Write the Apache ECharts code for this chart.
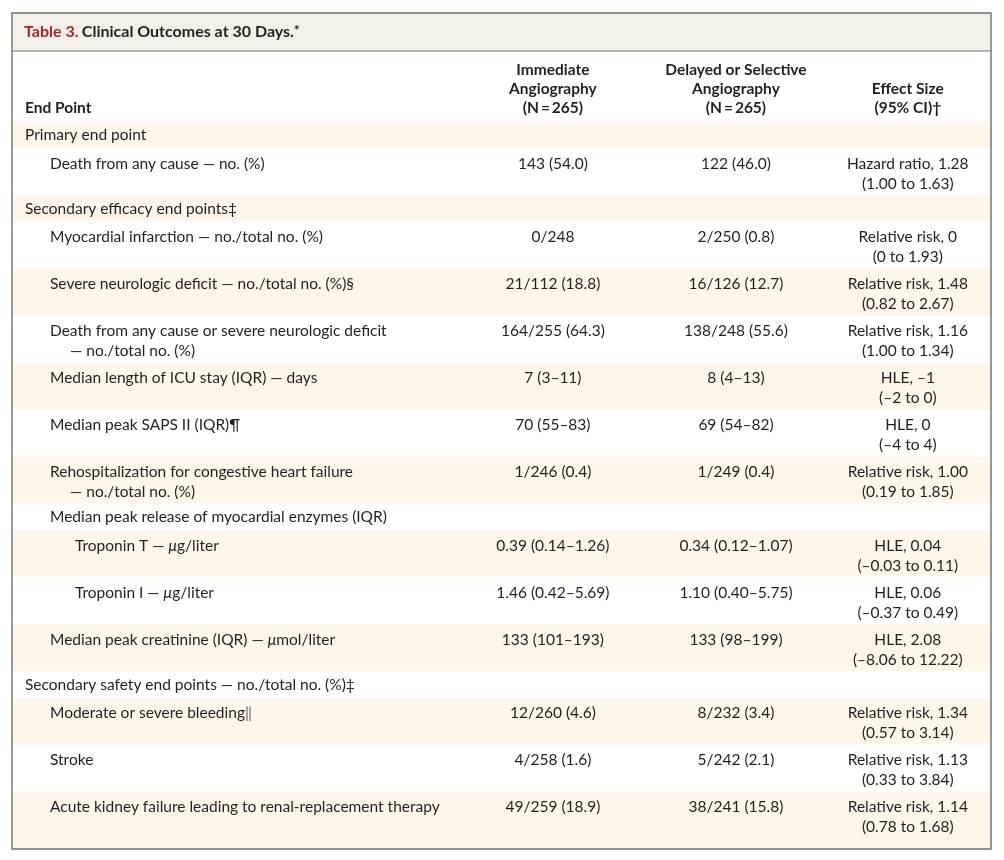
<!DOCTYPE html>
<html><head><meta charset="utf-8">
<script src="https://cdn.jsdelivr.net/npm/echarts@6/dist/echarts.min.js"></script>
<style>html,body{margin:0;padding:0;background:#fff}#c{width:1004px;height:860px}</style>
</head><body><div id="c"></div>
<script>
// ---------- DATA ----------
const tableNumber = 'Table 3.';
const tableTitle = 'Clinical Outcomes at 30 Days.';
const titleMark = '*';
const headerEndPoint = 'End Point';
const columnHeaders = [
  ['Immediate', 'Angiography', '(N\u2009=\u2009265)'],
  ['Delayed or Selective', 'Angiography', '(N\u2009=\u2009265)'],
  ['Effect Size', '(95% CI)\u2020']
];
const endPoints = [
  'Primary end point',
  'Death from any cause \u2014 no. (%)',
  'Secondary efficacy end points\u2021',
  'Myocardial infarction \u2014 no./total no. (%)',
  'Severe neurologic deficit \u2014 no./total no. (%)\u00a7',
  'Death from any cause or severe neurologic deficit\n\u2014 no./total no. (%)',
  'Median length of ICU stay (IQR) \u2014 days',
  'Median peak SAPS II (IQR)\u00b6',
  'Rehospitalization for congestive heart failure\n\u2014 no./total no. (%)',
  'Median peak release of myocardial enzymes (IQR)',
  'Troponin T \u2014 \u03bcg/liter',
  'Troponin I \u2014 \u03bcg/liter',
  'Median peak creatinine (IQR) \u2014 \u03bcmol/liter',
  'Secondary safety end points \u2014 no./total no. (%)\u2021',
  'Moderate or severe bleeding\u2016',
  'Stroke',
  'Acute kidney failure leading to renal-replacement therapy'
];
const levels = [0, 1, 0, 1, 1, 1, 1, 1, 1, 1, 2, 2, 1, 0, 1, 1, 1];
const immediate = [
  '', '143 (54.0)', '', '0/248', '21/112 (18.8)', '164/255 (64.3)', '7 (3\u201311)', '70 (55\u201383)',
  '1/246 (0.4)', '', '0.39 (0.14\u20131.26)', '1.46 (0.42\u20135.69)', '133 (101\u2013193)', '',
  '12/260 (4.6)', '4/258 (1.6)', '49/259 (18.9)'
];
const delayed = [
  '', '122 (46.0)', '', '2/250 (0.8)', '16/126 (12.7)', '138/248 (55.6)', '8 (4\u201313)', '69 (54\u201382)',
  '1/249 (0.4)', '', '0.34 (0.12\u20131.07)', '1.10 (0.40\u20135.75)', '133 (98\u2013199)', '',
  '8/232 (3.4)', '5/242 (2.1)', '38/241 (15.8)'
];
const effectSize = [
  '', 'Hazard ratio, 1.28\n(1.00 to 1.63)', '', 'Relative risk, 0\n(0 to 1.93)',
  'Relative risk, 1.48\n(0.82 to 2.67)', 'Relative risk, 1.16\n(1.00 to 1.34)',
  'HLE, \u20131\n(\u20132 to 0)', 'HLE, 0\n(\u20134 to 4)', 'Relative risk, 1.00\n(0.19 to 1.85)', '',
  'HLE, 0.04\n(\u20130.03 to 0.11)', 'HLE, 0.06\n(\u20130.37 to 0.49)', 'HLE, 2.08\n(\u20138.06 to 12.22)', '',
  'Relative risk, 1.34\n(0.57 to 3.14)', 'Relative risk, 1.13\n(0.33 to 3.84)', 'Relative risk, 1.14\n(0.78 to 1.68)'
];

// ---------- LAYOUT / STYLE ----------
const FONT = 'Lato, "Open Sans", sans-serif';
const FS = 15.5;
const TXT = '#231f20';
const CREAM = '#fef6e8';
const BORDER = '#6f6f6f';
const SHORT_H = 26.6, TALL_H = 46.95, BOTTOM_PAD = 10;
const LINE_H = 20;
const indentPx = [13, 38, 63];
const colCenter = [55.25, 73.95, 91.5]; // % of table width

const rowStart = [], rowEnd = [];
let acc = 0;
endPoints.forEach((_, i) => {
  const tall = immediate[i] || delayed[i] || effectSize[i] || endPoints[i].indexOf('\n') >= 0;
  let h = tall ? TALL_H : SHORT_H;
  if (i === endPoints.length - 1) h += BOTTOM_PAD;
  rowStart.push(acc); acc += h; rowEnd.push(acc);
});
const totalH = acc;

const rich = {
  n: { fontFamily: FONT, fontSize: FS, fill: TXT, color: TXT },
  i: { fontFamily: FONT, fontSize: FS, fill: TXT, color: TXT, fontStyle: 'italic' },
  g: { fontFamily: FONT, fontSize: FS, fill: '#8a8a8a', color: '#8a8a8a', fontWeight: 'bold' }
};
function richify(s) {
  const parts = [];
  let buf = '';
  for (const ch of s) {
    if (ch === '\u03bc' || ch === '\u2016') {
      if (buf) parts.push('{n|' + buf + '}');
      parts.push((ch === '\u03bc' ? '{i|' : '{g|') + ch + '}');
      buf = '';
    } else buf += ch;
  }
  if (buf) parts.push('{n|' + buf + '}');
  return parts.join('');
}

function renderItem(params, api) {
  const i = params.dataIndex;
  const p0 = api.coord([0, rowStart[i]]);
  const p1 = api.coord([100, rowEnd[i]]);
  const tall = (rowEnd[i] - rowStart[i]) > 30;
  const children = [{
    type: 'rect',
    shape: { x: p0[0], y: p0[1], width: p1[0] - p0[0], height: p1[1] - p0[1] },
    style: { fill: i % 2 === 0 ? CREAM : '#ffffff' }
  }];
  const y0 = tall ? p0[1] + 15.5 : p0[1] + 13.5;
  endPoints[i].split('\n').forEach((ln, k) => {
    children.push({
      type: 'text',
      style: {
        text: richify(ln), rich: rich,
        x: p0[0] + indentPx[levels[i]] + (k > 0 ? 20 : 0), y: y0 + k * LINE_H,
        textAlign: 'left', textVerticalAlign: 'middle', align: 'left', verticalAlign: 'middle',
        font: FS + 'px ' + FONT, fill: TXT
      }
    });
  });
  [immediate, delayed, effectSize].forEach((col, c) => {
    const t = col[i];
    if (!t) return;
    const cx = api.coord([colCenter[c], 0])[0];
    t.split('\n').forEach((ln, k) => {
      children.push({
        type: 'text',
        style: {
          text: ln, x: cx, y: y0 + k * LINE_H,
          textAlign: 'center', textVerticalAlign: 'middle', align: 'center', verticalAlign: 'middle',
          font: FS + 'px ' + FONT, fill: TXT
        }
      });
    });
  });
  return { type: 'group', children };
}

const L = 12, R = 991, T = 13, B = 849, TITLE_B = 51, HEAD_B = 121.5;

const graphics = [
  { type: 'rect', shape: { x: L, y: T, width: R - L, height: TITLE_B - T }, style: { fill: '#f3efe9' }, z: 1 },
  { type: 'line', shape: { x1: L, y1: TITLE_B, x2: R, y2: TITLE_B }, style: { stroke: BORDER, lineWidth: 1.2 }, z: 10 },
  { type: 'rect', shape: { x: L, y: T, width: R - L, height: B - T }, style: { fill: 'none', stroke: BORDER, lineWidth: 1.4 }, z: 10 },
  {
    type: 'text', z: 5,
    style: {
      text: '{r|' + tableNumber + '} {b|' + tableTitle + '}{s|' + titleMark + '}',
      x: 24, y: 32, verticalAlign: 'middle', textVerticalAlign: 'middle',
      rich: {
        r: { fontFamily: FONT, fontSize: 16, fontWeight: 'bold', fill: '#a8262d', color: '#a8262d' },
        b: { fontFamily: FONT, fontSize: 16, fontWeight: 'bold', fill: TXT, color: TXT },
        s: { fontFamily: FONT, fontSize: 14, fontWeight: 'bold', fill: TXT, color: TXT, padding: [0, 0, 4, 0] }
      }
    }
  },
  {
    type: 'text', z: 5,
    style: { text: headerEndPoint, x: 25, y: 108, verticalAlign: 'middle', textVerticalAlign: 'middle',
      font: 'bold ' + FS + 'px ' + FONT, fill: TXT }
  }
];
const headerLineY = [70, 89, 108];
columnHeaders.forEach((lines, c) => {
  const cx = L + (R - L) * colCenter[c] / 100;
  const offset = 3 - lines.length;
  lines.forEach((ln, k) => {
    graphics.push({
      type: 'text', z: 5,
      style: { text: ln, x: cx, y: headerLineY[k + offset], align: 'center', textAlign: 'center',
        verticalAlign: 'middle', textVerticalAlign: 'middle', font: 'bold ' + FS + 'px ' + FONT, fill: TXT }
    });
  });
});

const chart = echarts.init(document.getElementById('c'), null, { renderer: 'canvas' });
chart.setOption({
  animation: false,
  backgroundColor: '#ffffff',
  grid: { left: L, right: 1004 - R, top: HEAD_B, bottom: 860 - B },
  xAxis: { type: 'value', min: 0, max: 100, show: false },
  yAxis: { type: 'value', min: 0, max: totalH, inverse: true, show: false },
  graphic: graphics,
  series: [{
    type: 'custom',
    renderItem: renderItem,
    clip: false,
    z: 2,
    data: endPoints.map((_, i) => [50, rowStart[i]])
  }]
});
</script>
</body></html>
